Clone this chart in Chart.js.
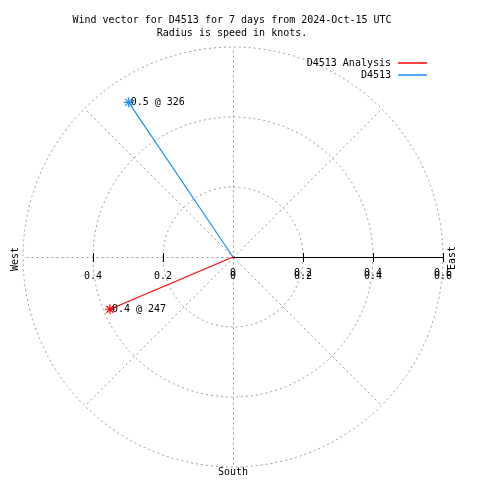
<!DOCTYPE html>
<html>
<head>
<meta charset="utf-8">
<script src="https://cdn.jsdelivr.net/npm/chart.js@4"></script>
<style>
  body { margin: 0; background: #fff; }
  canvas { display: block; }
</style>
</head>
<body>
<canvas id="windChart" width="480" height="480"></canvas>
<script>
const titleLines = ["Wind vector for D4513 for 7 days from 2024-Oct-15 UTC", "Radius is speed in knots."];
const seriesNames = ["D4513 Analysis", "D4513"];
const seriesColors = ["#ff0000", "#1a8cff"];
const speeds = [0.382, 0.533];
const directions = [247, 326];
const speedLabels = ["0.4", "0.5"];
const ringValues = [0.2, 0.4, 0.6];
const eastTicks = ["0", "0.2", "0.4", "0.6"];
const westTicks = ["0.2", "0.4"];

const FONT = "10px 'DejaVu Sans Mono', monospace";

function toXY(speed, dir) {
    const rad = dir * Math.PI / 180;
    return { x: speed * Math.sin(rad), y: speed * Math.cos(rad) };
}

const datasets = speeds.map((s, i) => ({
    label: seriesNames[i],
    data: [{ x: 0, y: 0 }, toXY(s, directions[i])],
    showLine: true,
    borderColor: seriesColors[i],
    backgroundColor: seriesColors[i],
    borderWidth: 1.2,
    pointStyle: "star",
    pointRadius: [0, 5],
    pointBorderWidth: 1.2,
    pointHoverRadius: 0
}));

const polarPlugin = {
    id: "polarGrid",
    beforeDatasetsDraw(chart) {
        const ctx = chart.ctx;
        const xs = chart.scales.x, ys = chart.scales.y;
        const cx = xs.getPixelForValue(0), cy = ys.getPixelForValue(0);
        const maxR = ringValues[ringValues.length - 1];
        ctx.save();
        ctx.strokeStyle = "#999999";
        ctx.lineWidth = 1;
        ctx.setLineDash([2, 3]);
        ringValues.forEach(v => {
            const r = xs.getPixelForValue(v) - cx;
            ctx.beginPath();
            ctx.arc(cx, cy, r, 0, Math.PI * 2);
            ctx.stroke();
        });
        for (let a = 0; a < 360; a += 45) {
            if (a === 90) continue;
            const p = toXY(maxR, a);
            ctx.beginPath();
            ctx.moveTo(cx + 0.5, cy + 0.5);
            ctx.lineTo(xs.getPixelForValue(p.x) + 0.5, ys.getPixelForValue(p.y) + 0.5);
            ctx.stroke();
        }
        ctx.setLineDash([]);
        // solid east axis
        ctx.strokeStyle = "#000";
        ctx.beginPath();
        ctx.moveTo(cx, cy + 0.5);
        ctx.lineTo(xs.getPixelForValue(maxR), cy + 0.5);
        ctx.stroke();
        ringValues.forEach(v => {
            [v, -v].forEach(t => {
                if (t === -maxR) return;
                const px = Math.round(xs.getPixelForValue(t)) + 0.5;
                ctx.beginPath();
                ctx.moveTo(px, cy - 4);
                ctx.lineTo(px, cy + 5);
                ctx.stroke();
            });
        });
        ctx.restore();
    },
    afterDraw(chart) {
        const ctx = chart.ctx;
        const xs = chart.scales.x, ys = chart.scales.y;
        const cx = xs.getPixelForValue(0), cy = ys.getPixelForValue(0);
        ctx.save();
        ctx.font = FONT;
        ctx.fillStyle = "#000";
        ctx.textBaseline = "middle";

        // title
        ctx.textAlign = "center";
        ctx.fillText(titleLines[0], 232, 20);
        ctx.fillText(titleLines[1], 232, 33);

        // legend
        ctx.textAlign = "right";
        seriesNames.forEach((name, i) => {
            const y = 63 + i * 12;
            ctx.fillText(name, 391, y);
            ctx.strokeStyle = seriesColors[i];
            ctx.lineWidth = 1.5;
            ctx.beginPath();
            ctx.moveTo(398, y);
            ctx.lineTo(427, y);
            ctx.stroke();
        });

        // axis tick labels
        ctx.textAlign = "center";
        eastTicks.forEach((lab, i) => {
            const px = xs.getPixelForValue(ringValues[i - 1] || 0);
            ctx.fillText(lab, px, cy + 16);
            ctx.fillText(lab, px, cy + 19);
        });
        westTicks.forEach((lab, i) => {
            const px = xs.getPixelForValue(-ringValues[i]);
            ctx.fillText(lab, px, cy + 19);
        });

        // compass labels
        ctx.fillText("South", cx, 472);
        [["West", 15, cy + 2], ["East", 452, cy + 1]].forEach(([t, x, y]) => {
            ctx.save();
            ctx.translate(x, y);
            ctx.rotate(-Math.PI / 2);
            ctx.fillText(t, 0, 0);
            ctx.restore();
        });

        // vector labels
        ctx.textAlign = "left";
        chart.data.datasets.forEach((ds, i) => {
            const pt = chart.getDatasetMeta(i).data[1];
            ctx.fillText(speedLabels[i] + " @ " + directions[i], pt.x + 2, pt.y);
        });
        ctx.restore();
    }
};

new Chart(document.getElementById("windChart"), {
    type: "scatter",
    data: { datasets },
    options: {
        responsive: false,
        animation: false,
        layout: { padding: { left: 23, right: 37, top: 47, bottom: 13 } },
        scales: {
            x: { type: "linear", min: -0.6, max: 0.6, display: false },
            y: { type: "linear", min: -0.6, max: 0.6, display: false }
        },
        plugins: {
            legend: { display: false },
            title: { display: false },
            tooltip: { enabled: false }
        }
    },
    plugins: [polarPlugin]
});
</script>
</body>
</html>
